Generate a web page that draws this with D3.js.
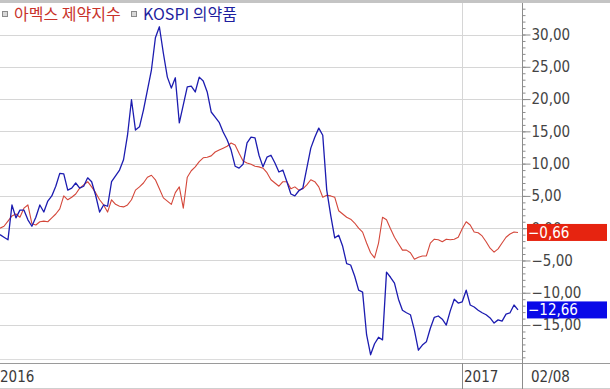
<!DOCTYPE html>
<html>
<head>
<meta charset="utf-8">
<script src="https://cdnjs.cloudflare.com/ajax/libs/d3/7.8.5/d3.min.js"></script>
<style>
    body { margin: 0; background: #fff; }
    svg { display: block; }
    .num { font-family: "Liberation Sans Narrow", "DejaVu Sans Condensed", sans-serif; font-size: 15px; }
    .legend { font-family: "Noto Sans CJK KR", sans-serif; font-size: 16px; }
</style>
</head>
<body>
<svg id="chart" width="610" height="389"></svg>
<script>
'use strict';

// series names (legend order)
const seriesNames = ['아멕스 제약지수', 'KOSPI 의약품'];

// x axis: trading day index where each year starts, and the last date
const yearLabels = ['2016', '2017'];
const yearStartIdx = [0, 116];
const lastDateLabel = '02/08';

// y axis labels (%)
const yTickValues = [30, 25, 20, 15, 10, 5, 0, -5, -10, -15];

// 아멕스 제약지수, % change
const amexPharma = [
    0.0, 0.3, 1.1, 1.9, 2.2, 1.7, 3.1, 3.6, 0.7, 0.5,
    1.0, 1.1, 1.0, 1.6, 2.2, 3.0, 5.0, 4.4, 4.8, 5.3,
    6.2, 6.7, 7.2, 6.4, 5.5, 4.4, 3.6, 2.5, 4.4, 3.7,
    3.4, 3.3, 3.6, 4.4, 5.9, 6.4, 7.0, 7.9, 8.2, 7.5,
    6.1, 4.7, 4.2, 3.7, 5.5, 6.4, 3.1, 7.9, 8.9, 9.5,
    10.3, 10.9, 11.0, 11.2, 11.8, 12.1, 12.4, 12.7, 13.2, 12.9,
    11.6, 10.4, 10.1, 9.9, 9.6, 9.5, 9.3, 8.6, 7.5, 7.0,
    6.5, 7.2, 7.2, 6.1, 6.4, 5.9, 6.1, 6.7, 7.5, 7.2,
    6.4, 4.8, 5.1, 5.0, 4.8, 2.7, 2.2, 1.7, 1.4, 0.8,
    0.0, -0.6, -2.3, -3.8, -4.6, -2.3, 1.7, 1.3, -0.1, -1.4,
    -2.4, -3.4, -3.4, -3.8, -4.8, -4.5, -4.3, -4.3, -2.3, -1.7,
    -1.8, -2.1, -1.7, -1.8, -1.7, -1.4, -0.1, 1.0, 0.5, -0.6,
    -0.7, -1.2, -2.1, -3.1, -3.7, -3.2, -2.3, -1.4, -0.9, -0.6,
    -0.66
];

// KOSPI 의약품, % change
const kospiPharma = [
    -1.0, -1.4, -1.8, 3.6, 1.6, 2.8, 2.8, 1.3, 0.3, 1.7,
    3.6, 2.5, 4.2, 5.0, 6.5, 8.5, 8.4, 5.9, 6.2, 7.0,
    6.2, 6.5, 7.8, 7.2, 5.1, 2.5, 3.6, 3.4, 7.2, 8.1,
    9.0, 10.6, 14.4, 19.9, 15.2, 15.7, 18.3, 21.4, 24.5, 29.5,
    31.2, 27.1, 23.4, 21.7, 23.3, 16.3, 19.1, 21.9, 22.0, 21.1,
    23.4, 22.8, 21.1, 18.0, 17.2, 16.4, 14.9, 13.7, 12.1, 9.6,
    9.3, 9.9, 13.2, 14.1, 14.0, 11.3, 9.5, 11.0, 11.3, 10.1,
    8.7, 9.0, 7.2, 5.3, 5.0, 5.8, 6.2, 9.3, 12.4, 14.1,
    15.5, 14.4, 5.9, 2.0, -1.5, -1.1, -2.8, -5.5, -5.7, -7.4,
    -9.6, -9.9, -16.5, -19.6, -17.9, -16.9, -17.3, -6.8, -7.6, -8.5,
    -11.0, -12.7, -13.1, -13.4, -15.8, -18.9, -18.1, -17.6, -15.5, -13.8,
    -13.6, -14.1, -15.0, -12.8, -11.0, -11.6, -11.4, -9.6, -11.9, -12.2,
    -12.7, -13.1, -13.4, -13.9, -14.7, -14.2, -14.4, -13.3, -13.1, -11.9,
    -12.66
];

const seriesColors = ['#d4473a', '#1c1cb0'];
const legendColors = ['#c8322a', '#1e1e9e'];
const boxColors = ['#e62410', '#0a0ae8'];

function drawChart() {
    const svg = d3.select('#chart');
    const W = 610, H = 389;
    const plotRight = 522, plotTop = 3, plotBottom = 359, axisBottom = 363;

    const x = d3.scaleLinear().domain([0, amexPharma.length - 1]).range([0, 518]);
    const y = d3.scaleLinear().domain([-20.26, 34.88]).range([plotBottom, plotTop]);

    // comma decimal like the original HTS screen
    const fmt = d3.formatLocale({decimal: ',', thousands: '.', grouping: [3], currency: ['', '']}).format('.2f');

    // FRAME
    svg.append('rect').attr('x', 0).attr('y', 0).attr('width', W).attr('height', 3).attr('fill', '#c4c4c4');
    svg.append('line').attr('x1', 0).attr('x2', plotRight).attr('y1', plotBottom + 0.5).attr('y2', plotBottom + 0.5)
        .attr('stroke', '#dcdcdc');
    svg.append('line').attr('x1', 0).attr('x2', W).attr('y1', axisBottom + 0.5).attr('y2', axisBottom + 0.5)
        .attr('stroke', '#9a9a9a');
    svg.append('line').attr('x1', 0).attr('x2', W).attr('y1', H - 0.5).attr('y2', H - 0.5)
        .attr('stroke', '#cfcfcf');

    // GRID
    svg.append('g').selectAll('line')
        .data(yTickValues)
        .join('line')
        .attr('x1', 0).attr('x2', plotRight)
        .attr('y1', d => Math.round(y(d)) + 0.5)
        .attr('y2', d => Math.round(y(d)) + 0.5)
        .attr('stroke', '#d6d6d6');

    const yearLines = yearStartIdx.slice(1);
    svg.append('g').selectAll('line')
        .data(yearLines)
        .join('line')
        .attr('x1', d => Math.round(x(d)) + 0.5).attr('x2', d => Math.round(x(d)) + 0.5)
        .attr('y1', plotTop).attr('y2', plotBottom)
        .attr('stroke', '#d6d6d6');
    svg.append('g').selectAll('line')
        .data(yearLines)
        .join('line')
        .attr('x1', d => Math.round(x(d)) + 0.5).attr('x2', d => Math.round(x(d)) + 0.5)
        .attr('y1', axisBottom).attr('y2', H)
        .attr('stroke', '#8a8a8a');

    // X LABELS
    svg.append('g').selectAll('text')
        .data(yearLabels)
        .join('text')
        .attr('class', 'num')
        .attr('x', (d, i) => i === 0 ? 0 : Math.round(x(yearStartIdx[i])) + 2)
        .attr('y', 382)
        .attr('fill', '#3a3a3a')
        .text(d => d);
    svg.append('text')
        .attr('class', 'num')
        .attr('x', 531).attr('y', 382)
        .attr('fill', '#3a3a3a')
        .text(lastDateLabel);

    // Y AXIS (minor + major ticks)
    const minor = svg.append('g')
        .attr('transform', `translate(${plotRight + 0.5},0)`)
        .call(d3.axisRight(y).tickValues(d3.range(-20, 35)).tickSize(3).tickFormat(''));
    const major = svg.append('g')
        .attr('transform', `translate(${plotRight + 0.5},0)`)
        .call(d3.axisRight(y).tickValues(yTickValues).tickSize(8).tickPadding(1).tickFormat(fmt));
    [minor, major].forEach(g => {
        g.select('.domain').remove();
        g.attr('color', '#8c8c8c');
    });
    major.selectAll('text')
        .attr('class', 'num')
        .attr('fill', '#444')
        .attr('font-family', null)
        .attr('font-size', null);
    svg.append('line')
        .attr('x1', plotRight + 0.5).attr('x2', plotRight + 0.5)
        .attr('y1', plotTop).attr('y2', H)
        .attr('stroke', '#8c8c8c');

    // LINES
    const line = d3.line()
        .x((d, i) => x(i))
        .y(d => y(d));
    const allSeries = [amexPharma, kospiPharma];
    svg.append('g').selectAll('path')
        .data(allSeries)
        .join('path')
        .attr('d', line)
        .attr('fill', 'none')
        .attr('stroke', (d, i) => seriesColors[i])
        .attr('stroke-width', (d, i) => i === 0 ? 1.1 : 1.3)
        .attr('stroke-linejoin', 'round');

    // LAST VALUE BOXES (they sit over the 0,00 / -15,00 labels as in the original)
    const boxes = svg.append('g').selectAll('g')
        .data(allSeries)
        .join('g')
        .attr('transform', d => `translate(527,${y(d[d.length - 1])})`);
    boxes.append('rect')
        .attr('x', 0).attr('y', -8.5)
        .attr('width', 80).attr('height', 17)
        .attr('fill', (d, i) => boxColors[i]);
    boxes.append('text')
        .attr('class', 'num')
        .attr('x', 1).attr('dy', '0.36em')
        .attr('fill', '#fff')
        .text(d => fmt(d[d.length - 1]));

    // LEGEND
    const legendX = [2, 131];
    const legend = svg.append('g').selectAll('g')
        .data(seriesNames)
        .join('g')
        .attr('transform', (d, i) => `translate(${legendX[i]},0)`);
    legend.append('rect')
        .attr('x', 0.5).attr('y', 11.5)
        .attr('width', 5).attr('height', 5)
        .attr('fill', '#d8d8d8')
        .attr('stroke', '#8a8a8a');
    legend.append('text')
        .attr('class', 'legend')
        .attr('x', 12).attr('y', 20)
        .attr('fill', (d, i) => legendColors[i])
        .text(d => d);
}

drawChart();
</script>
</body>
</html>
